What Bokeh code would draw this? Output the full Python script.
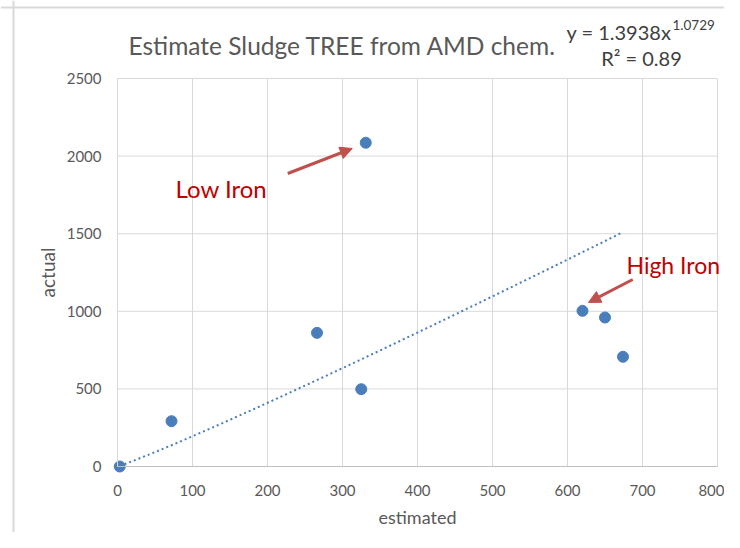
import numpy as np
from bokeh.plotting import figure
from bokeh.models import Range1d, FixedTicker, Label, Arrow, NormalHead, ColumnDataSource, Span
from bokeh.embed import file_html
from bokeh.resources import INLINE

# data
estimated = [3, 72, 266, 325, 331, 620, 650, 674]
actual = [0, 292, 861, 498, 2086, 1003, 960, 707]
fit_a = 1.3938
fit_b = 1.0729
r2 = 0.89
x_ticks = [0, 100, 200, 300, 400, 500, 600, 700, 800]
y_ticks = [0, 500, 1000, 1500, 2000, 2500]

FONT = "Lato"
GRAY = "#595959"
BLUE = "#4a7ebb"
RED = "#c00000"
ARROW = "#c0504d"
W, H = 724, 532
# plot area in page pixels
PL, PR, PT, PB = 117, 717, 78, 466
X0, X1 = x_ticks[0], x_ticks[-1]
Y0, Y1 = y_ticks[0], y_ticks[-1]
kx = (PR - PL) / (X1 - X0)
ky = (PB - PT) / (Y1 - Y0)

p = figure(width=W, height=H, output_backend="svg", toolbar_location=None,
           x_range=Range1d(X0 - PL / kx, X0 + (W - PL) / kx),
           y_range=Range1d(Y0 - (H - PB) / ky, Y0 + PB / ky),
           min_border=0)
p.outline_line_color = None
p.background_fill_color = "white"
p.border_fill_color = "white"
p.xgrid.visible = False
p.ygrid.visible = False

# grid lines
gx = [t for t in x_ticks if t != X0]
gy = [t for t in y_ticks if t != Y0]
p.segment(x0=gx, y0=[Y0] * len(gx), x1=gx, y1=[Y1] * len(gx), line_color="#d9d9d9", line_width=1)
p.segment(x0=[X0] * len(gy), y0=gy, x1=[X1] * len(gy), y1=gy, line_color="#d9d9d9", line_width=1)

for ax in (p.xaxis[0], p.yaxis[0]):
    ax.fixed_location = 0
    ax.major_tick_line_color = None
    ax.minor_tick_line_color = None
    ax.major_label_text_font = FONT
    ax.major_label_text_font_size = "15px"
    ax.major_label_text_color = GRAY
    ax.axis_label_text_font = FONT
    ax.axis_label_text_font_size = "18px"
    ax.axis_label_text_color = GRAY
    ax.axis_label_text_font_style = "normal"

p.xaxis.ticker = FixedTicker(ticks=x_ticks)
p.yaxis.ticker = FixedTicker(ticks=y_ticks)
p.xaxis.bounds = (X0, X1)
p.yaxis.bounds = (Y0, Y1)
p.xaxis.axis_label = "estimated"
p.yaxis.axis_label = "actual"
p.yaxis.axis_label_text_font_size = "19px"
p.xaxis.axis_line_color = "#bfbfbf"
p.yaxis.axis_line_color = "#d9d9d9"
p.xaxis.major_label_standoff = 12
p.yaxis.major_label_standoff = 10
p.xaxis.axis_label_standoff = 7
p.yaxis.axis_label_standoff = 5

# trendline (power fit)
xs = np.linspace(min(estimated), max(estimated), 120)
ys = fit_a * xs ** fit_b
p.line(xs, ys, line_color=BLUE, line_width=2, line_dash="2 3")

src = ColumnDataSource(dict(x=estimated, y=actual))
p.scatter("x", "y", source=src, size=11, fill_color=BLUE, line_color=BLUE)


def slabel(px, py, text, size, color, align="left"):
    p.add_layout(Label(x=px, y=H - py, x_units="screen", y_units="screen", text=text,
                       text_font=FONT, text_font_size=size, text_color=color,
                       text_align=align, text_baseline="middle"))


# chart box border
p.add_layout(Span(location=13, location_units="screen", dimension="height", line_color="#d9d9d9", line_width=2))
p.add_layout(Span(location=H - 7, location_units="screen", dimension="width", line_color="#d9d9d9", line_width=2))

# title and equation
slabel(342, 45, "Estimate Sludge TREE from AMD chem.", "24.5px", GRAY, "center")
slabel(566, 31, "y = %.4fx" % fit_a, "20px", "#404040")
slabel(672, 24, "%.4f" % fit_b, "13.5px", "#404040")
slabel(641, 57, "R² = %.2f" % r2, "20px", "#404040", "center")

# annotations
slabel(175, 188, "Low Iron", "24px", RED)
slabel(626, 264, "High Iron", "23px", RED)
p.add_layout(Arrow(x_start=227, y_start=1888, x_end=313, y_end=2049, line_color=ARROW, line_width=3,
                   end=NormalHead(size=12, fill_color=ARROW, line_color=ARROW)))
p.add_layout(Arrow(x_start=687, y_start=1205, x_end=628, y_end=1057, line_color=ARROW, line_width=3,
                   end=NormalHead(size=12, fill_color=ARROW, line_color=ARROW)))

open("out.html", "w").write(file_html(p, INLINE))
